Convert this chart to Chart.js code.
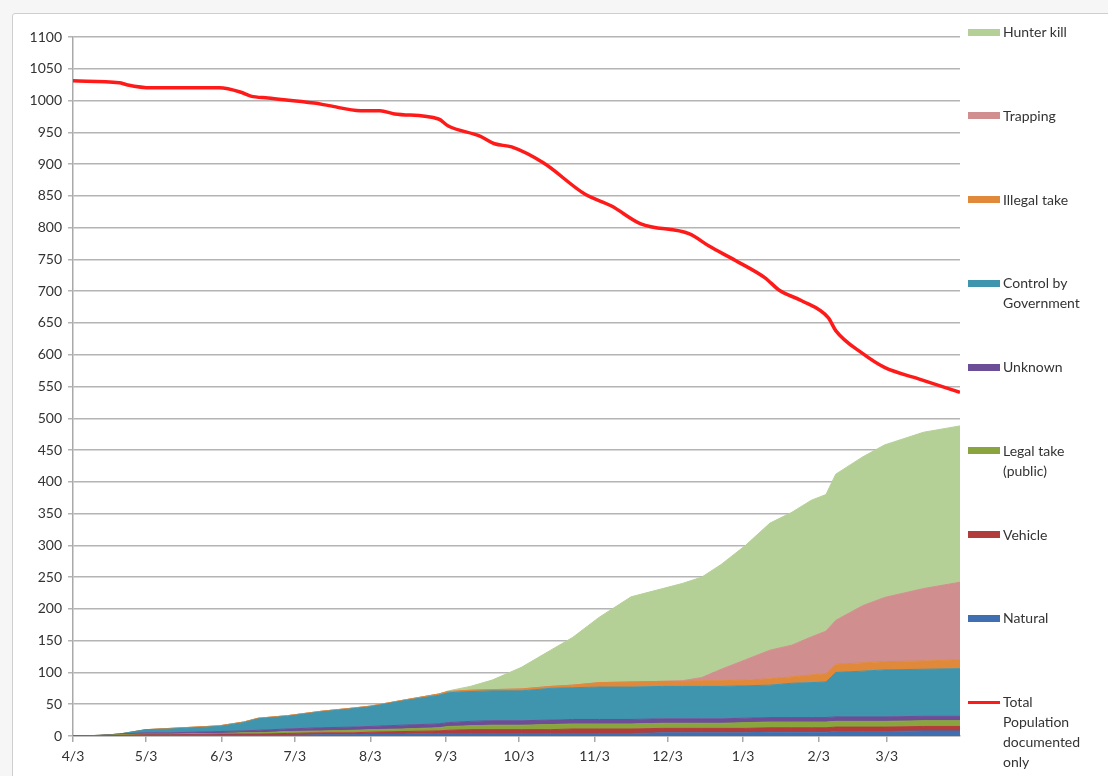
<!DOCTYPE html>
<html>
<head>
<meta charset="utf-8">
<script src="https://cdn.jsdelivr.net/npm/chart.js@4/dist/chart.umd.min.js"></script>
<style>
  html, body { margin: 0; padding: 0; background: #ffffff; }
  #wrap { position: relative; width: 1108px; height: 776px; overflow: hidden; background: #f6f6f6; }
  #frame { position: absolute; left: 12px; top: 13px; width: 1200px; height: 900px; border: 1px solid #cfcfcf; border-radius: 3px; background: #ffffff; }
  #chart { position: absolute; left: 0; top: 0; }
  .leg { position: absolute; left: 968px; font-family: Lato, "Open Sans", sans-serif; font-size: 14px; color: #333; line-height: 20px; }
  .sw { position: absolute; left: 0; width: 32px; }
  .lt { position: absolute; left: 35px; white-space: nowrap; }
</style>
</head>
<body>
<div id="wrap">
  <div id="frame"></div>
  <canvas id="chart" width="1108" height="776"></canvas>
  <div id="legend"></div>
</div>
<script>
// ---- Data (day offsets from 4/3) ----
const days = [0,11,19,30,40,60,70,76,88,102,115,122,135,150,154,163,172,184,196,205,216,229,242,250,258,266,276,286,295,303,309,313,324,333,349,364];

const natural   = [0,0,0,1,1,1,1,1,1,2,2,3,3,4,4,4,4,4,4,4,4,4,5,5,5,5,5,6,6,6,6,7,7,7,8,8];
const vehicle   = [0,0,1,1,1,2,2,2,3,3,3,3,4,4,5,6,6,6,6,7,7,7,7,7,7,7,7,7,7,7,7,7,7,7,7,7];
const legalTake = [0,1,1,1,1,1,2,2,3,3,4,4,4,5,6,6,7,7,8,8,8,8,8,8,8,8,9,9,9,9,9,9,9,9,9,9];
const unknown   = [0,0,1,2,2,3,3,4,4,5,5,5,6,6,6,7,7,7,7,7,7,7,7,7,7,7,7,7,7,7,7,7,7,7,7,7];
const control   = [0,0,0,5,6,8,13,18,20,25,29,31,38,45,47,47,47,47,50,50,51,51,51,51,51,51,51,51,54,55,56,70,72,74,74,75];
const illegal   = [0,0,0,0,1,1,1,1,1,1,1,1,1,2,2,2,2,3,3,4,7,8,8,8,9,9,9,10,10,12,13,13,13,13,13,14];
const trapping  = [0,0,0,0,0,0,0,0,0,0,0,0,0,0,0,0,0,0,0,0,0,0,0,1,5,18,32,45,50,60,67,69,90,101,114,122];
const hunter    = [0,0,0,0,0,0,0,0,0,0,0,0,0,0,1,6,15,34,57,75,103,134,146,153,158,165,180,200,209,215,215,230,234,240,246,246];

const popDays = [0,19,22,32,60,69,73,80,99,105,118,126,132,150,154,167,173,180,193,210,221,233,253,261,272,284,290,299,310,313,324,333,347,364];
const population = [1031,1028,1025,1020,1020,1013,1007,1004,996,992,984,984,979,971,960,944,932,927,902,853,834,806,790,771,748,721,701,685,658,638,602,580,562,541];

const monthDays   = [0,30,61,91,122,153,183,214,244,275,306,334];
const monthLabels = ['4/3','5/3','6/3','7/3','8/3','9/3','10/3','11/3','12/3','1/3','2/3','3/3'];

const seriesNames  = ['Natural','Vehicle','Legal take (public)','Unknown','Control by Government','Illegal take','Trapping','Hunter kill'];
const seriesValues = [natural, vehicle, legalTake, unknown, control, illegal, trapping, hunter];
const seriesColors = ['#3f6fb0','#b03c3c','#8aa53e','#6c4e96','#3e95ad','#e0893a','#d18e8e','#b5d096'];
const popName = 'Total Population documented only';
const popColor = '#ff1a1a';

// ---- Build datasets ----
const datasets = seriesValues.map((vals, k) => ({
  label: seriesNames[k],
  data: days.map((d, i) => ({ x: d, y: vals[i] })),
  backgroundColor: seriesColors[k],
  borderColor: seriesColors[k],
  borderWidth: 1,
  pointRadius: 0,
  fill: k === 0 ? 'origin' : '-1',
  stack: 'deaths',
  tension: 0
}));
datasets.push({
  label: popName,
  data: popDays.map((d, i) => ({ x: d, y: population[i] })),
  borderColor: popColor,
  backgroundColor: popColor,
  borderWidth: 3.5,
  pointRadius: 0,
  fill: false,
  stack: 'pop',
  order: -1,
  cubicInterpolationMode: 'monotone'
});

const font = { family: 'Lato, "Open Sans", sans-serif', size: 14 };

new Chart(document.getElementById('chart'), {
  type: 'line',
  data: { datasets },
  options: {
    responsive: false,
    animation: false,
    devicePixelRatio: 1,
    layout: { padding: { left: 0, right: 148, top: 37, bottom: 0 } },
    plugins: { legend: { display: false }, tooltip: { enabled: false } },
    scales: {
      x: {
        type: 'linear',
        min: 0,
        max: 364,
        afterBuildTicks: (s) => { s.ticks = monthDays.map(v => ({ value: v })); },
        afterFit: (s) => { s.height = 40; },
        ticks: {
          autoSkip: false,
          maxRotation: 0,
          padding: 6,
          color: '#333',
          font,
          callback: (v) => { const i = monthDays.indexOf(v); return i >= 0 ? monthLabels[i] : ''; }
        },
        grid: { drawOnChartArea: false, tickLength: 6, color: '#a9a9a9', lineWidth: 1.5 },
        border: { color: '#a9a9a9', width: 1.5 }
      },
      y: {
        stacked: true,
        min: 0,
        max: 1100,
        afterFit: (s) => { s.width = 73; },
        ticks: { stepSize: 50, padding: 6, color: '#333', font, callback: (v) => String(v) },
        grid: { color: '#b4b4b4', lineWidth: 1.5, tickLength: 5 },
        border: { color: '#a9a9a9', width: 1.5 }
      }
    }
  }
});

// ---- Legend (HTML) ----
const legendItems = [
  { color: seriesColors[7], lines: ['Hunter kill'] },
  { color: seriesColors[6], lines: ['Trapping'] },
  { color: seriesColors[5], lines: ['Illegal take'] },
  { color: seriesColors[4], lines: ['Control by', 'Government'] },
  { color: seriesColors[3], lines: ['Unknown'] },
  { color: seriesColors[2], lines: ['Legal take', '(public)'] },
  { color: seriesColors[1], lines: ['Vehicle'] },
  { color: seriesColors[0], lines: ['Natural'] },
  { color: popColor, lines: ['Total', 'Population', 'documented', 'only'], isLine: true }
];
const legEl = document.getElementById('legend');
legendItems.forEach((it, i) => {
  const cy = 32 + i * 83.75;
  const d = document.createElement('div');
  d.className = 'leg';
  d.style.top = (cy - 10) + 'px';
  const sw = document.createElement('div');
  sw.className = 'sw';
  const h = it.isLine ? 3 : 7;
  sw.style.height = h + 'px';
  sw.style.top = (10 - h / 2) + 'px';
  sw.style.background = it.color;
  const t = document.createElement('div');
  t.className = 'lt';
  t.style.top = '0px';
  t.innerHTML = it.lines.join('<br>');
  d.appendChild(sw);
  d.appendChild(t);
  legEl.appendChild(d);
});
</script>
</body>
</html>
